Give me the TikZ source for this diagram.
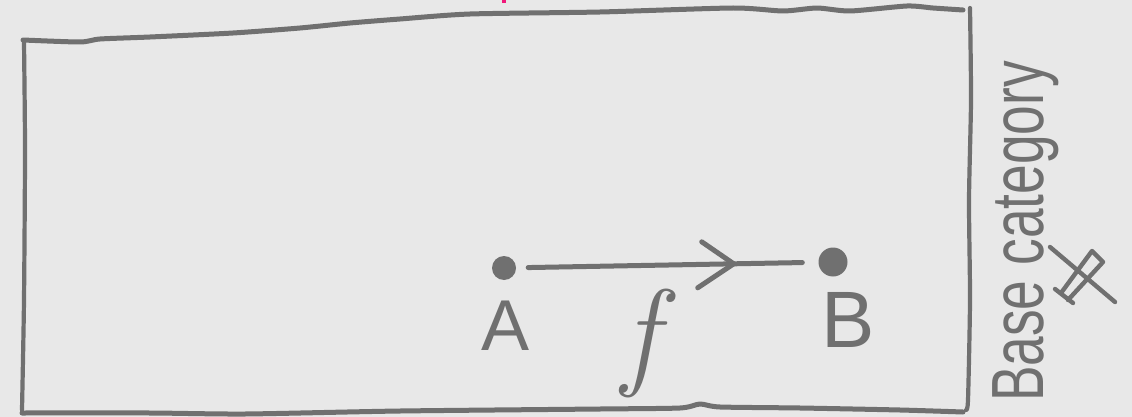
\documentclass[tikz,border=0pt]{standalone}
\usepackage{fontspec}
\newfontfamily\handsans{Liberation Sans}
\definecolor{ink}{HTML}{707070}
\definecolor{paper}{HTML}{E8E8E8}
\definecolor{pinkmark}{HTML}{F0187A}
\tikzset{
  stroke/.style={draw=ink, line width=5pt, line cap=round, line join=round},
  dotnode/.style={circle, fill=ink, inner sep=0pt},
  lbl/.style={text=ink, inner sep=0pt},
}
\begin{document}
\begin{tikzpicture}[x=1pt,y=-1pt]
\fill[paper] (0,0) rectangle (1132,417);
\useasboundingbox (0,0) rectangle (1132,417);
\fill[pinkmark] (502,0) rectangle (506,3);
% hand-drawn frame
\draw[stroke] plot[smooth, tension=0.4] coordinates {(23,40) (80,42) (100,39) (150,37) (233,33) (300,28) (350,23) (400,19) (470,14) (600,12) (733,8) (783,11) (817,8) (850,11) (907,6) (933,8) (963,10)};
\draw[stroke, line width=4.2pt] plot[smooth, tension=0.4] coordinates {(970,8) (971,100) (969,200) (970,300) (968,400) (966,410)};
\draw[stroke] plot[smooth, tension=0.4] coordinates {(22,413) (150,413) (245,414) (400,411) (600,409) (680,408) (700,404) (720,407) (800,408) (900,410) (963,412)};
\draw[stroke, line width=4.2pt] plot[smooth, tension=0.4] coordinates {(24,42) (25,150) (24,300) (22,410)};
% objects
\node[dotnode, minimum size=24pt] (dA) at (504,268) {};
\node[dotnode, minimum size=29pt] (dB) at (833,262) {};
\draw[stroke, shorten <=12pt, shorten >=16pt] (dA) -- coordinate[pos=0.72] (tip) (dB);
\draw[stroke] (tip) ++(-32,-22) -- (tip) -- ++(-36,24);
\node[lbl, font=\handsans\fontsize{72}{72}\selectfont] (lA) at (506,326) {A};
\node[lbl, font=\handsans\fontsize{80}{80}\selectfont] (lB) at (848,320) {B};
\node[lbl, font=\fontsize{120}{120}\selectfont\itshape] (lf) at (640,343) {f};
% rotated label
\node[lbl, rotate=90, anchor=base west, font=\handsans\fontsize{74}{74}\selectfont] (base) at (1043,402) {\scalebox{0.72}[1]{Base category}};
% symbol
\draw[stroke, line width=4.4pt] (1050,247) -- (1115,302);
\draw[stroke, line width=4.4pt] (1055,289) -- (1073,303);
\draw[stroke, line width=4.4pt] (1061,293) -- (1092,251) -- (1103,262) -- (1068,300);
\end{tikzpicture}
\end{document}
